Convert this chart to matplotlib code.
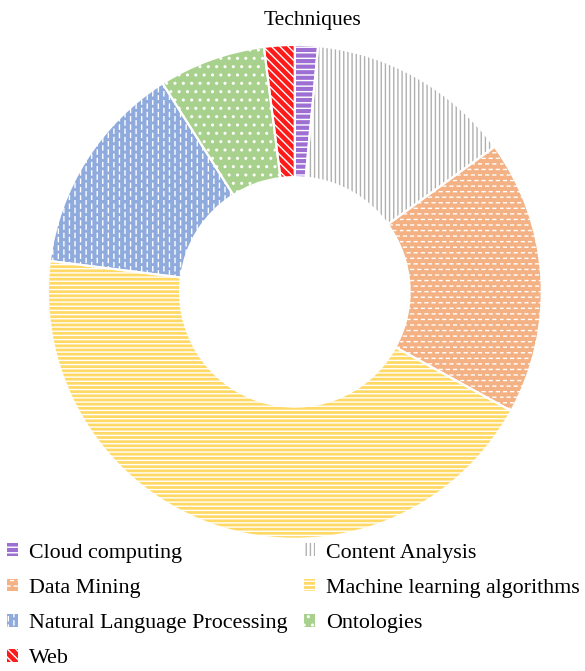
import numpy as np
import matplotlib
matplotlib.use("Agg")
import matplotlib.pyplot as plt
import matplotlib.hatch as mhatch
from matplotlib.path import Path

TITLE = "Techniques"
labels = ["Cloud computing", "Content Analysis", "Data Mining",
          "Machine learning algorithms", "Natural Language Processing",
          "Ontologies", "Web"]
shares = [1.5, 13.5, 18, 44, 14, 7, 2]
face_colors = ["#9e6fd2", "white", "#f4b183", "#ffd966", "#8faadc", "#a9d18e", "#ff1a1a"]
hatch_colors = ["white", "#b0b0b0", "white", "white", "white", "white", "white"]
hatches = ["---", "||||", "OOO", "----", "ooo", "..", "\\\\\\\\"]


# short dash textures (Excel style); they take the place of the circle hatches
class HDashes(mhatch.HatchPatternBase):
    def __init__(self, hatch, density):
        self.n = hatch.count("O") * density
        self.m = int(self.n * 0.8)
        self.num_vertices = self.n * self.m * 2

    def set_vertices_and_codes(self, vertices, codes):
        k = 0
        for i in range(self.n):
            y = (i + 0.5) / self.n
            off = 0.5 if i % 2 else 0.0
            for j in range(self.m):
                x0 = (j + off) / self.m
                vertices[k] = (x0, y)
                vertices[k + 1] = (x0 + 0.4 / self.m, y)
                codes[k] = Path.MOVETO
                codes[k + 1] = Path.LINETO
                k += 2


class VDashes(mhatch.HatchPatternBase):
    def __init__(self, hatch, density):
        self.n = hatch.count("o") * density
        self.m = int(self.n * 0.67)
        self.num_vertices = self.n * self.m * 2

    def set_vertices_and_codes(self, vertices, codes):
        k = 0
        for i in range(self.n):
            x = (i + 0.5) / self.n
            off = 0.5 if i % 2 else 0.0
            for j in range(self.m):
                y0 = (j + off) / self.m
                vertices[k] = (x, y0)
                vertices[k + 1] = (x, y0 + 0.5 / self.m)
                codes[k] = Path.MOVETO
                codes[k + 1] = Path.LINETO
                k += 2


mhatch._hatch_types = [t for t in mhatch._hatch_types
                       if t not in (mhatch.SmallCircles, mhatch.LargeCircles)] + [HDashes, VDashes]

plt.rcParams["font.family"] = ["Liberation Serif", "DejaVu Serif"]
plt.rcParams["hatch.linewidth"] = 1.0

fig = plt.figure(figsize=(5.85, 6.71), dpi=100)
ax = fig.add_axes([0.082, 0.197, 0.844, 0.736])

wedges, _ = ax.pie(shares, startangle=90, counterclock=False, radius=1,
                   wedgeprops=dict(width=0.535, linewidth=0))
for w, fc, hc, h in zip(wedges, face_colors, hatch_colors, hatches):
    w.set_facecolor(fc)
    w.set_edgecolor(hc)
    w.set_hatch(h)
    w.set_linewidth(0)

# white separators between slices
ax.pie(shares, startangle=90, counterclock=False, radius=1,
       wedgeprops=dict(width=0.535, fill=False, edgecolor="white", linewidth=1.5))
ax.set_xlim(-1, 1)
ax.set_ylim(-1, 1)
ax.set_aspect("equal")

fig.text(0.535, 0.969, TITLE, ha="center", va="center", fontsize=15.5)

# legend is filled row by row in the reference
order = [0, 2, 4, 6, 1, 3, 5]
fig.legend([wedges[i] for i in order], [labels[i] for i in order], ncol=2,
           loc="upper left", bbox_to_anchor=(-0.022, 0.2195),
           frameon=False, fontsize=15.8, handlelength=0.5, handleheight=0.5,
           handletextpad=0.5, columnspacing=0.77, labelspacing=0.74)

fig.savefig("out.png", dpi=100)
